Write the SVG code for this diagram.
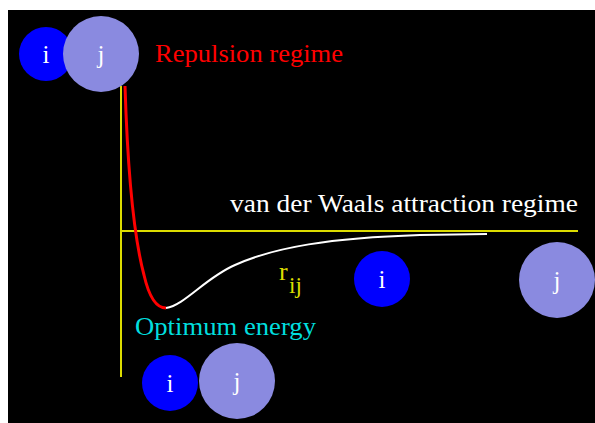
<svg xmlns="http://www.w3.org/2000/svg" width="595" height="423" viewBox="0 0 595 423">
<style>
.lbl{font-family:"Liberation Serif","DejaVu Serif",serif;fill:#fff;font-size:25px;text-anchor:middle}
.atom-i{fill:#0000ff}
.atom-j{fill:#8a8ae0}
.axis{stroke:#dcdc00;stroke-width:2;fill:none}
.t{font-family:"Liberation Serif","DejaVu Serif",serif}
</style>
<rect x="0" y="0" width="595" height="423" fill="#fff"/>
<rect x="8" y="10" width="587" height="413" fill="#000"/>
<g id="axes">
<line class="axis" x1="121" y1="86" x2="121" y2="377"/>
<line class="axis" x1="121" y1="231" x2="578" y2="231"/>
</g>
<g id="connectors">
<path d="M125,86 C127,150 132,230 144,275 C149,297 156,308 166,308" fill="none" stroke="#ff0000" stroke-width="3"/>
<path d="M166,308 C185,305 205,278 235,265 C275,247 330,238 420,235 L487,234" fill="none" stroke="#ffffff" stroke-width="2"/>
</g>
<g id="pair-top">
<circle class="atom-i" cx="46" cy="54" r="27"/>
<circle class="atom-j" cx="101" cy="54" r="38"/>
<text class="lbl" x="46" y="63">i</text>
<text class="lbl" x="101" y="63">j</text>
</g>
<g id="pair-mid">
<circle class="atom-i" cx="382" cy="279" r="28"/>
<circle class="atom-j" cx="557" cy="280" r="38"/>
<text class="lbl" x="382" y="288">i</text>
<text class="lbl" x="557" y="289">j</text>
</g>
<g id="pair-bottom">
<circle class="atom-i" cx="170" cy="383" r="28"/>
<circle class="atom-j" cx="237" cy="381" r="38"/>
<text class="lbl" x="170" y="392">i</text>
<text class="lbl" x="237" y="390">j</text>
</g>
<g id="labels">
<text class="t" x="155" y="62" font-size="26" fill="#ff0000" textLength="188" lengthAdjust="spacingAndGlyphs">Repulsion regime</text>
<text class="t" x="230" y="212" font-size="26" fill="#ffffff" textLength="348" lengthAdjust="spacingAndGlyphs">van der Waals attraction regime</text>
<text class="t" x="135" y="335" font-size="26" fill="#00dede" textLength="181" lengthAdjust="spacingAndGlyphs">Optimum energy</text>
<text class="t" x="279" y="280" font-size="26" fill="#dcdc00">r</text>
<text class="t" x="289" y="293" font-size="23" fill="#dcdc00">ij</text>
</g>
</svg>
